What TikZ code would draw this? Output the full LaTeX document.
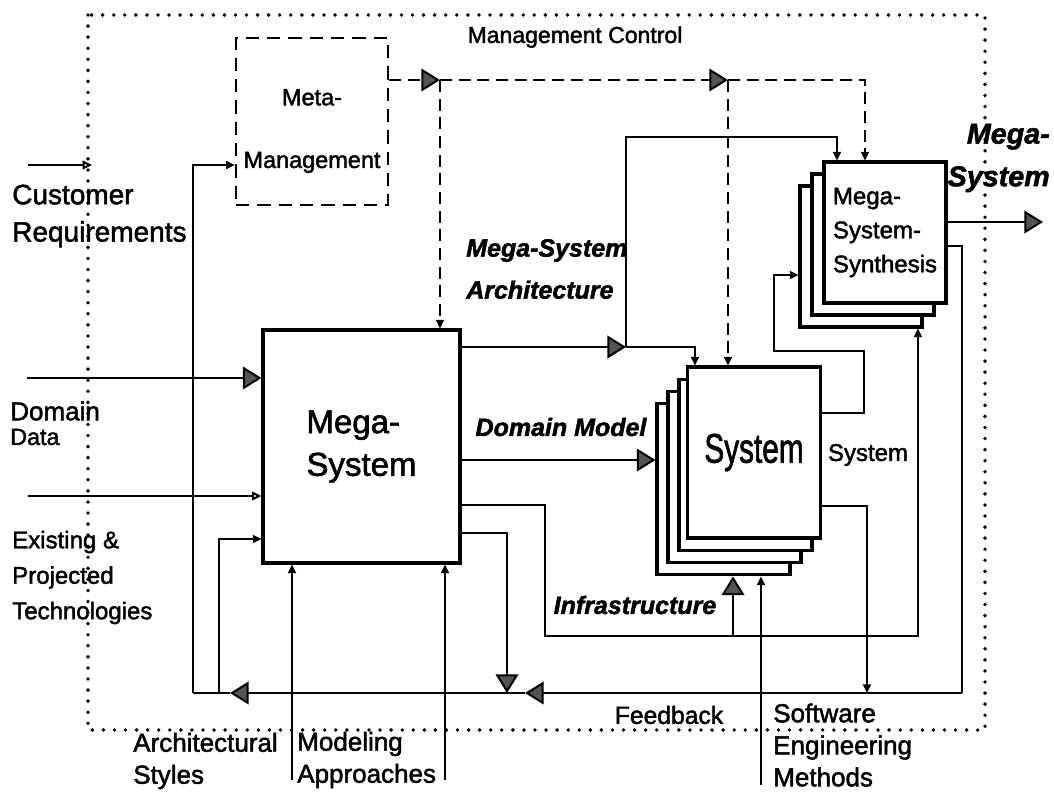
\documentclass[tikz,border=0pt]{standalone}
\usepackage{fontspec}
\setmainfont{Liberation Sans}[FakeBold=1.8]
\usetikzlibrary{arrows.meta,calc}
\definecolor{TipClr}{rgb}{0.33,0.33,0.33}

\tikzset{
  box/.style={draw,line width=2.3pt,fill=white,inner sep=0pt},
  metabox/.style={draw,line width=1.9pt,dash pattern=on 10pt off 6pt,inner sep=0pt},
  flow/.style={line width=1.5pt},
  ctrl/.style={line width=1.5pt,dash pattern=on 9pt off 5pt},
  bigtip/.style={-{Triangle[length=14pt,width=17pt,fill=TipClr]}},
  smalltip/.style={-{Triangle[length=6.5pt,width=6pt]}},
  opentip/.style={-{Triangle[open,length=7pt,width=6.5pt]}},
  lbl/.style={inner sep=0pt,font=\fontsize{18.5}{24}\selectfont},
  emlbl/.style={inner sep=0pt,font=\fontsize{18.75}{31.5}\selectfont\bfseries\itshape},
}

\begin{document}
\begin{tikzpicture}[x=0.75pt,y=-0.75pt]
\useasboundingbox (0,0) rectangle (1054,794);

\draw[line width=2.9pt,line cap=round,dash pattern=on 0pt off 8.3pt] (88,15) rectangle (985,730);

\node[metabox,minimum width=114pt,minimum height=125.25pt] (meta) at (312,121.5) {};
\node[lbl,align=center,font=\fontsize{17.6}{47}\selectfont] (metatxt) at (312,131) {Meta-\\Management};

\node[box,minimum width=147.75pt,minimum height=174.75pt,align=left,font=\fontsize{24.75}{32}\selectfont] (msys) at (361.5,446.5) {Mega-\\System};

\foreach \i in {3,2,1}
  \node[box,minimum width=99.75pt,minimum height=128.25pt] (sys\i) at ({756.5-11*\i},{452.5+12.3*\i}) {};
\node[box,minimum width=99.75pt,minimum height=128.25pt,font=\fontsize{31}{36}\selectfont] (sys) at (754,452.5) {\scalebox{0.72}[1]{System}};

\foreach \i in {2,1}
  \node[box,minimum width=91.5pt,minimum height=105.75pt] (syn\i) at ({885-12*\i},{232.5+12*\i}) {};
\node[box,minimum width=91.5pt,minimum height=105.75pt,align=left,font=\fontsize{18}{25.5}\selectfont] (syn) at (885,232.5) {Mega-\\System-\\Synthesis};

\node[lbl,font=\fontsize{17.25}{20}\selectfont] (mgmt) at (575,37) {Management Control};
\node[lbl,anchor=west,align=left,font=\fontsize{21}{28}\selectfont] (custreq) at (12,216) {Customer\\Requirements};
\node[lbl,anchor=west,font=\fontsize{19.5}{22}\selectfont] (domain) at (10,411) {Domain};
\node[lbl,anchor=west,font=\fontsize{17.5}{20}\selectfont] (data) at (10,437) {Data};
\node[lbl,anchor=west,align=left,font=\fontsize{18}{26.6}\selectfont] (extech) at (12,577.5) {Existing \&\\Projected\\Technologies};
\node[lbl,anchor=west,align=left,font=\fontsize{19.5}{24}\selectfont] (archsty) at (133,761) {Architectural\\Styles};
\node[lbl,anchor=west,align=left,font=\fontsize{19.5}{24}\selectfont] (modapp) at (297,760) {Modeling\\Approaches};
\node[lbl,anchor=west,align=left,font=\fontsize{19.5}{24}\selectfont] (sweng) at (773,745) {Software\\Engineering\\Methods};
\node[lbl] (fback) at (669,715) {Feedback};
\node[lbl,font=\fontsize{18}{22}\selectfont] (syslbl) at (868,455) {System};
\node[emlbl,anchor=west,align=left] (msarch) at (466,269) {Mega-System\\Architecture};
\node[emlbl] (dommod) at (561,427) {Domain Model};
\node[emlbl] (infra) at (635,605) {Infrastructure};
\node[emlbl,anchor=east,align=right,font=\fontsize{21.5}{32}\selectfont\bfseries\itshape] (msout) at (1050,158) {Mega-\\System};

\coordinate (t1) at (440,80);
\coordinate (t2) at (728,80);
\coordinate (c1) at (865,80);
\draw[ctrl,bigtip] (meta.east |- t1) -- (t1);
\draw[ctrl,bigtip] (t1) -- (t2);
\draw[ctrl,smalltip] (t2) -- (c1) -- (c1 |- syn.north);
\draw[ctrl,smalltip] (t1) -- (t1 |- msys.north);
\draw[ctrl,smalltip] (t2) -- (t2 |- sys.north);

\coordinate (cr) at (28,165);
\coordinate (dd) at (27,378);
\coordinate (ex) at (28,496);
\draw[flow,opentip] (cr) -- ++(64,0);
\draw[flow,bigtip] (dd) -- (dd -| msys.west);
\draw[flow,opentip] (ex) -- (ex -| msys.west);

\coordinate (fbR) at (962,693);
\coordinate (fbA) at (525,693);
\coordinate (fbB) at (230,693);
\coordinate (fbL) at (193,693);
\coordinate (fbM) at (219,693);
\draw[flow] (syn.east |- 0,246) -| (fbR);
\draw[flow,bigtip] (fbR) -- (fbA);
\draw[flow,bigtip] (fbA) -- (fbB);
\draw[flow] (fbB) -- (fbL);
\draw[flow,smalltip] (fbL) |- (meta.west |- cr);
\draw[flow,smalltip] (fbM) |- (msys.west |- 0,539);

\coordinate (as) at (292,780);
\coordinate (ma) at (445,780);
\coordinate (se) at (761,785);
\draw[flow,smalltip] (as) -- (as |- msys.south);
\draw[flow,smalltip] (ma) -- (ma |- msys.south);
\draw[flow,smalltip] (se) -- (se |- sys3.south);

\coordinate (j1) at (626,347);
\coordinate (inf) at (733,636);
\draw[flow,bigtip] (msys.east |- j1) -- (j1);
\draw[flow,smalltip] (j1) -- (695,347) -- (695,347 |- sys.north);
\draw[flow,smalltip] (j1) -- (626,137) -- (837,137) -- (837,137 |- syn.north);
\draw[flow,bigtip] (msys.east |- 0,460) -- (sys3.west |- 0,460);
\draw[flow,smalltip] (msys.east |- 0,505) -| (545,636) -| (syn2.south -| 918,0);
\draw[flow,bigtip] (inf) -- (inf |- sys3.south);
\draw[flow,bigtip] (msys.east |- 0,533) -| (fbA -| 507,0);

\draw[flow,smalltip] (sys.east |- 0,413) -- (864,413) -- (864,351) -- (774,351) |- (syn2.west |- 0,275);
\draw[flow,smalltip] (sys.east |- 0,506) -| (fbA -| 867,0);
\draw[flow,bigtip] (syn.east |- 0,222) -- (1043,222);

\end{tikzpicture}
\end{document}
